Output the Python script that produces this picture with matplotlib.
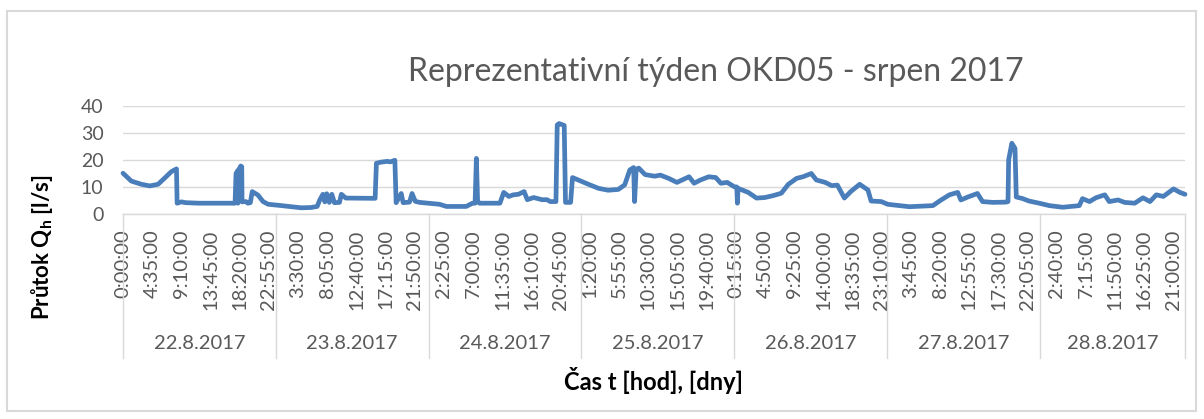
import matplotlib
matplotlib.use("Agg")
import matplotlib.pyplot as plt
import matplotlib.transforms as mtransforms
from matplotlib.lines import Line2D
from matplotlib.patches import Rectangle

plt.rcParams['font.family'] = ['Lato', 'DejaVu Sans']
plt.rcParams['mathtext.fontset'] = 'custom'
plt.rcParams['mathtext.rm'] = 'Lato'
plt.rcParams['mathtext.bf'] = 'Lato:bold'

# flow record, hours counted from 22.8.2017 0:00
hours = [
    0.0, 1.3, 2.9, 4.2, 5.5, 6.5, 7.6, 8.4, 8.5, 9.2, 9.8, 12.0, 17.6,
    17.75, 18.0, 18.05, 18.2, 18.5, 18.65, 18.7, 19.3, 19.6, 20.0, 20.3,
    21.2, 22.0, 22.8, 24.5, 26.4, 28.0, 29.5, 30.5, 30.9, 31.4, 31.7, 32.0,
    32.4, 32.8, 33.2, 34.0, 34.3, 35.0, 39.6, 39.8, 40.5, 41.5, 42.0, 42.7,
    42.9, 43.7, 44.0, 45.0, 45.4, 45.9, 46.6, 49.7, 50.8, 53.9, 54.9, 55.3,
    55.5, 55.7, 56.0, 59.2, 59.8, 60.6, 61.3, 62.1, 63.0, 63.5, 64.5, 65.8,
    66.6, 67.1, 68.0, 68.2, 68.5, 69.3, 69.5, 70.3, 70.6, 71.5, 73.1, 74.7,
    76.2, 77.8, 78.8, 79.6, 80.2, 80.35, 80.6, 81.0, 82.0, 83.5, 84.4, 85.7,
    87.0, 88.9, 89.7, 90.7, 92.0, 93.1, 93.9, 94.9, 96.0, 96.4, 96.5, 96.6,
    98.2, 99.5, 100.8, 102.1, 103.4, 104.5, 105.8, 106.8, 108.1, 108.9,
    110.3, 111.3, 112.2, 113.3, 114.3, 115.7, 117.0, 117.5, 119.1, 120.1,
    123.5, 127.2, 128.5, 129.8, 131.1, 131.6, 132.7, 134.2, 135.0, 136.6,
    138.7, 139.0, 139.1, 139.6, 140.1, 140.3, 141.3, 142.3, 143.9, 145.5,
    147.6, 150.2, 150.7, 151.8, 152.8, 154.2, 154.9, 156.3, 157.3, 158.9,
    160.2, 161.3, 162.3, 163.4, 165.0, 166.0, 166.8,
]
flow = [
    15.1, 12.2, 11.0, 10.4, 11.0, 13.2, 15.7, 16.7, 4.0, 4.5, 4.2, 4.0, 4.0,
    15.0, 16.0, 4.0, 16.5, 17.8, 17.5, 4.5, 4.6, 4.0, 4.2, 8.3,
    7.0, 4.6, 3.6, 3.2, 2.7, 2.3, 2.4, 2.8, 5.2, 7.3, 4.5, 7.5,
    4.3, 7.3, 4.2, 4.3, 7.3, 5.9, 5.8, 18.8, 19.2, 19.5, 19.3, 19.9,
    4.2, 7.6, 4.2, 4.4, 7.6, 4.7, 4.3, 3.6, 2.8, 2.8, 4.0, 4.0,
    20.6, 4.6, 4.0, 4.0, 8.0, 6.5, 7.1, 7.3, 8.3, 5.3, 6.1, 5.3,
    5.3, 4.6, 4.6, 33.0, 33.5, 32.8, 4.3, 4.3, 13.5, 12.6, 11.0, 9.5,
    8.8, 9.1, 10.8, 16.3, 17.2, 4.6, 16.5, 17.0, 14.6, 14.0, 14.4, 13.2,
    11.7, 13.8, 11.4, 12.6, 13.8, 13.5, 11.4, 11.7, 10.1, 10.0, 4.0, 9.5,
    8.0, 5.9, 6.1, 6.8, 7.7, 11.0, 13.2, 13.8, 15.0, 12.6,
    11.7, 10.5, 10.7, 5.9, 8.3, 11.0, 8.9, 4.8, 4.6, 3.6,
    2.7, 3.1, 5.2, 7.1, 8.0, 5.2, 6.3, 7.6, 4.6, 4.3,
    4.4, 4.6, 20.0, 26.2, 24.3, 6.3, 5.7, 4.8, 4.0, 3.1,
    2.5, 3.1, 5.7, 4.6, 6.0, 7.1, 4.6, 5.2, 4.3, 4.0,
    6.0, 4.6, 7.1, 6.5, 9.3, 8.0, 7.3,
]

days = ['22.8.2017', '23.8.2017', '24.8.2017', '25.8.2017',
        '26.8.2017', '27.8.2017', '28.8.2017']
time_labels = [
    '0:00:00', '4:35:00', '9:10:00', '13:45:00', '18:20:00', '22:55:00',
    '3:30:00', '8:05:00', '12:40:00', '17:15:00', '21:50:00',
    '2:25:00', '7:00:00', '11:35:00', '16:10:00', '20:45:00',
    '1:20:00', '5:55:00', '10:30:00', '15:05:00', '19:40:00',
    '0:15:00', '4:50:00', '9:25:00', '14:00:00', '18:35:00', '23:10:00',
    '3:45:00', '8:20:00', '12:55:00', '17:30:00', '22:05:00',
    '2:40:00', '7:15:00', '11:50:00', '16:25:00', '21:00:00',
]
label_step = 275 / 60  # one label every 4:35
t_end = hours[-1]

grey = '#595959'
grid = '#d9d9d9'

fig = plt.figure(figsize=(12.04, 4.19), dpi=100)
ax = fig.add_axes([123 / 1204, 1 - 214 / 419, (1185 - 123) / 1204, 108 / 419])

ax.plot(hours, flow, color='#4a7ebb', lw=3.4, solid_joinstyle='round',
        solid_capstyle='round', clip_on=False, zorder=3)

ax.set_xlim(0, t_end)
ax.set_ylim(0, 40)
ax.set_yticks([0, 10, 20, 30, 40])
ax.yaxis.grid(True, color=grid, lw=1.0)
ax.set_axisbelow(True)
for side in ['left', 'right', 'top']:
    ax.spines[side].set_visible(False)
ax.spines['bottom'].set_color(grid)
ax.spines['bottom'].set_linewidth(1.0)

ticks = [i * label_step for i in range(len(time_labels))]
ax.set_xticks(ticks, time_labels, rotation=90)
ax.tick_params(axis='x', length=0, pad=11, labelsize=14.5, labelcolor=grey)
ax.tick_params(axis='y', length=0, pad=14, labelsize=14, labelcolor=grey)

# day groups under the time labels
trans = mtransforms.blended_transform_factory(ax.transData, fig.transFigure)
bounds = [24 * i for i in range(len(days))] + [t_end]
for b in bounds:
    fig.add_artist(Line2D([b, b], [1 - 214 / 419, 1 - 358 / 419],
                          transform=trans, color=grid, lw=1.0))
for i, d in enumerate(days):
    mid = (bounds[i] + bounds[i + 1]) / 2
    fig.text(mid, 1 - 343 / 419, d, transform=trans, ha='center',
             va='center', fontsize=14.5, color=grey)

fig.text(716 / 1204, 1 - 72 / 419, 'Reprezentativní týden OKD05 - srpen 2017',
         ha='center', va='center', fontsize=23, color=grey)
fig.text(653 / 1204, 1 - 380 / 419, 'Čas t [hod], [dny]', ha='center',
         va='center', fontsize=17, fontweight='bold', color='black')
fig.text(42 / 1204, 1 - 247 / 419, r'Průtok Q$_{\mathbf{h}}$ [l/s]',
         rotation=90, ha='center', va='center', fontsize=16,
         fontweight='bold', color='black')

fig.add_artist(Rectangle((7 / 1204, 1 - 411 / 419), 1189 / 1204, 400 / 419,
                         transform=fig.transFigure, fill=False,
                         edgecolor=grid, lw=1.5))

fig.savefig('out.png', dpi=100, facecolor='white')
